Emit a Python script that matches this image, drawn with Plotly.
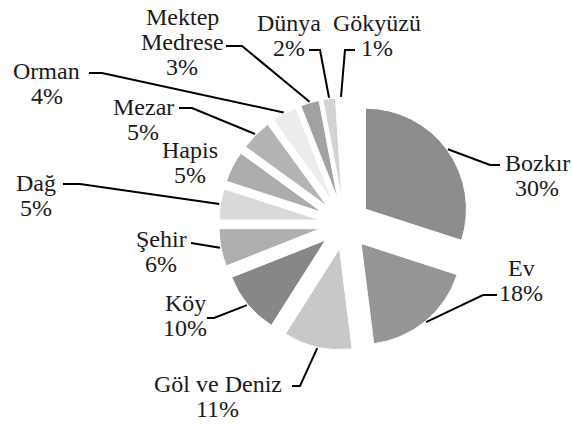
import math
import plotly.graph_objects as go

# ---- data ----
labels = ["Bozkır", "Ev", "Göl ve Deniz", "Köy", "Şehir", "Dağ", "Hapis",
          "Mezar", "Orman", "Mektep Medrese", "Dünya", "Gökyüzü"]
values = [30, 18, 11, 10, 6, 5, 5, 5, 4, 3, 2, 1]
colors = ["#8c8c8c", "#959595", "#c8c8c8", "#878787", "#afafaf", "#d9d9d9",
          "#acacac", "#b4b4b4", "#ececec", "#a2a2a2", "#d2d2d2", "#ffffff"]

# ---- layout constants (pixels) ----
W, H = 572, 427
CX, CY, R, PULL = 345, 224, 101, 0.25
FONT = "Liberation Serif"
FS = 24
LINE_GAP = 25

# label placement: centre x, first line y, leader (y, start x, elbow x) or None
label_layout = {
    "Bozkır":         (537, 163, (165, 500, 490)),
    "Ev":             (521, 268, (295, 497, 483)),
    "Göl ve Deniz":   (218, 384, (386, 292, 300)),
    "Köy":            (185, 303, (318, 207, 214)),
    "Şehir":          (161, 239, (243, 191, 191)),
    "Dağ":            (36, 183, (184, 63, 80)),
    "Hapis":          (190, 150, None),
    "Mezar":          (143, 107, (108, 179, 192)),
    "Orman":          (47, 71, (73, 89, 102)),
    "Mektep Medrese": (182, 17, (46, 226, 242)),
    "Dünya":          (289, 23, (50, 309, 320)),
    "Gökyüzü":        (377, 23, (50, 355, 345)),
}

S = R * (2 + 2 * PULL)
dom_x = [(CX - S / 2) / W, (CX + S / 2) / W]
dom_y = [1 - (CY + S / 2) / H, 1 - (CY - S / 2) / H]

fig = go.Figure(go.Pie(
    labels=labels, values=values, sort=False, direction="clockwise",
    rotation=0, pull=[PULL] * len(values), textinfo="none",
    marker=dict(colors=colors, line=dict(color="white", width=1)),
    domain=dict(x=dom_x, y=dom_y), showlegend=False,
))

def px(x, y):
    return x / W, 1 - y / H

total = sum(values)
cum = 0
annotations = []
shapes = []
for lab, v in zip(labels, values):
    mid = (cum + v / 2) / total * 2 * math.pi
    cum += v
    dx, dy = math.sin(mid), -math.cos(mid)
    ax = CX + dx * (PULL * R + R + 1)
    ay = CY + dy * (PULL * R + R + 1)
    lx, ly, leader = label_layout[lab]
    lines = ["Mektep", "Medrese"] if lab == "Mektep Medrese" else [lab]
    lines.append(f"{round(v / total * 100)}%")
    for i, t in enumerate(lines):
        x, y = px(lx, ly + i * LINE_GAP)
        annotations.append(dict(x=x, y=y, xref="paper", yref="paper", text=t,
                                showarrow=False, xanchor="center", yanchor="middle",
                                font=dict(family=FONT, size=FS, color="#1a1a1a")))
    if leader:
        hy, sx, ex = leader
        p0 = px(sx, hy); p1 = px(ex, hy); p2 = px(ax, ay)
        shapes.append(dict(type="path", xref="paper", yref="paper",
                           path=f"M {p0[0]},{p0[1]} L {p1[0]},{p1[1]} L {p2[0]},{p2[1]}",
                           line=dict(color="black", width=2)))

fig.update_layout(width=W, height=H, margin=dict(l=0, r=0, t=0, b=0),
                  paper_bgcolor="white", plot_bgcolor="white",
                  font=dict(family=FONT),
                  annotations=annotations, shapes=shapes)
fig.write_html("out.html")
